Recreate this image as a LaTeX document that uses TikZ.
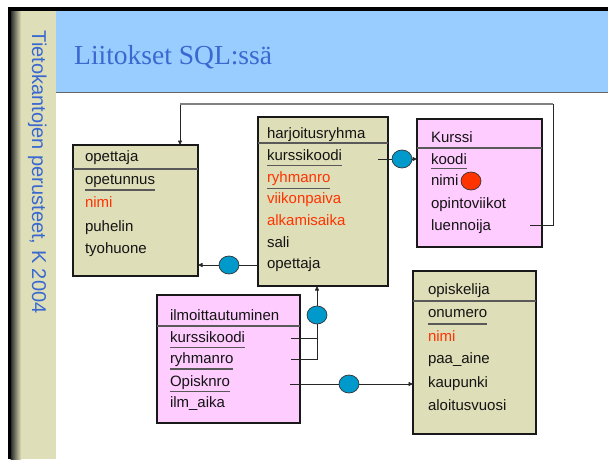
\documentclass[tikz,border=0pt]{standalone}
\usepackage{fontspec}
\setmainfont{Liberation Sans}
\newfontfamily\titlefont{Liberation Serif}
\usetikzlibrary{arrows.meta,shapes.geometric}
\definecolor{olivebg}{RGB}{222,222,184}
\definecolor{pinkbg}{RGB}{255,204,255}
\definecolor{headblue}{RGB}{153,204,255}
\definecolor{titleblue}{RGB}{56,104,208}
\definecolor{keyred}{RGB}{255,51,0}
\definecolor{circblue}{RGB}{0,153,204}
\definecolor{txtblack}{RGB}{20,20,20}
\tikzset{
  tbl/.style={draw=black!90, line width=1.2pt, inner sep=0pt, outer sep=0pt, anchor=north west},
  olivetbl/.style={tbl, fill=olivebg},
  pinktbl/.style={tbl, fill=pinkbg},
  sepl/.style={draw=black!65, line width=1.4pt},
  txt/.style={anchor=base west, inner sep=0pt, outer sep=0pt, text=txtblack, font=\fontsize{15}{18}\selectfont},
  redtxt/.style={txt, text=keyred},
  uline/.style={draw=black!65, line width=1.3pt},
  conn/.style={draw=black!85, line width=0.8pt},
  arr/.style={-{Triangle[length=4.5pt,width=4pt]}},
  bcirc/.style={ellipse, draw=black!80, line width=0.7pt, fill=circblue, minimum width=20pt, minimum height=18pt, inner sep=0pt},
  rcirc/.style={ellipse, draw=black!80, line width=0.7pt, fill=keyred, minimum width=20pt, minimum height=18pt, inner sep=0pt},
}
\newcommand{\ul}[2][6pt]{\draw[uline] ([yshift=-#1]#2.base west) -- ([yshift=-#1]#2.base east);}
\begin{document}
\begin{tikzpicture}[x=1pt,y=-1pt]
\useasboundingbox (0,0) rectangle (608,459);
% frame
\fill[white] (0,0) rectangle (608,459);
\fill[olivebg] (8,8) rectangle (56,459);
\shade[left color=black!85, right color=olivebg] (10.5,8) rectangle (21,459);
\fill[black] (8,8) rectangle (11,459);
\fill[headblue] (56,10) rectangle (608,92);
\fill[black] (8,7) rectangle (608,10.5);
\draw[black!60, line width=1.5pt] (56,92.5) -- (608,92.5);
\node[rotate=-90, anchor=base west, inner sep=0pt, text=titleblue, font=\fontsize{20}{24}\selectfont] (side) at (32,30.5) {Tietokantojen perusteet, K 2004};
\node[anchor=base west, inner sep=0pt, text=titleblue, font=\titlefont\fontsize{27.5}{30}\selectfont] (title) at (74,64) {Liitokset SQL:ssä};

% tables
\node[olivetbl, minimum width=125pt, minimum height=131pt] (opettaja) at (73,145) {};
\node[olivetbl, minimum width=130pt, minimum height=169pt] (harj) at (258,117) {};
\node[pinktbl, minimum width=125pt, minimum height=128pt] (kurssi) at (417,119) {};
\node[pinktbl, minimum width=143pt, minimum height=128pt] (ilmo) at (157,295) {};
\node[olivetbl, minimum width=123pt, minimum height=163pt] (opisk) at (413,271) {};

\draw[sepl] (opettaja.west |- 0,169) -- (opettaja.east |- 0,169);
\draw[sepl] (harj.west |- 0,143) -- (harj.east |- 0,143);
\draw[sepl] (kurssi.west |- 0,148) -- (kurssi.east |- 0,148);
\draw[sepl] (ilmo.west |- 0,326) -- (ilmo.east |- 0,326);
\draw[sepl] (opisk.west |- 0,301) -- (opisk.east |- 0,301);

% opettaja
\node[txt] (op0) at (85,161) {opettaja};
\node[txt] (op1) at (85,184) {opetunnus};
\node[redtxt] (op2) at (85,207) {nimi};
\node[txt] (op3) at (85,231) {puhelin};
\node[txt] (op4) at (85,253) {tyohuone};
\ul{op1}
% harjoitusryhma
\node[txt] (h0) at (267,138) {harjoitusryhma};
\node[txt] (h1) at (267,160) {kurssikoodi};
\node[redtxt] (h2) at (267,182) {ryhmanro};
\node[redtxt] (h3) at (267,203) {viikonpaiva};
\node[redtxt] (h4) at (267,225) {alkamisaika};
\node[txt] (h5) at (267,247) {sali};
\node[txt] (h6) at (267,268) {opettaja};
\ul[5.5pt]{h1}
\ul[6.5pt]{h2}
% Kurssi
\node[txt] (k0) at (431,142) {Kurssi};
\node[txt] (k1) at (431,164) {koodi};
\node[txt] (k2) at (431,185) {nimi};
\node[txt] (k3) at (431,208) {opintoviikot};
\node[txt] (k4) at (431,230) {luennoija};
\ul[4.5pt]{k1}
\node[rcirc] (rc) at (471,181) {};
% ilmoittautuminen
\node[txt] (i0) at (170,320) {ilmoittautuminen};
\node[txt] (i1) at (170,342) {kurssikoodi};
\node[txt] (i2) at (170,363) {ryhmanro};
\node[txt] (i3) at (170,386) {Opisknro};
\node[txt] (i4) at (170,407) {ilm\_aika};
\ul[5.5pt]{i1}
\ul[6pt]{i2}
\ul[5.5pt]{i3}
% opiskelija
\node[txt] (o0) at (428,294) {opiskelija};
\node[txt] (o1) at (428,317) {onumero};
\node[redtxt] (o2) at (428,341) {nimi};
\node[txt] (o3) at (428,363) {paa\_aine};
\node[txt] (o4) at (428,387) {kaupunki};
\node[txt] (o5) at (428,410) {aloitusvuosi};
\ul[7pt]{o1}

% connector circles
\node[bcirc] (c1) at (402,159) {};
\node[bcirc] (c2) at (229,265) {};
\node[bcirc] (c3) at (317,315) {};
\node[bcirc] (c4) at (349,384) {};

% connectors
\coordinate (hk) at (378,159);
\draw[conn] (hk) -- (c1);
\draw[conn,arr] (c1) -- (kurssi.west |- c1);

\coordinate (ho) at (harj.west |- 0,265);
\draw[conn] (ho) -- (c2);
\draw[conn,arr] (c2) -- (opettaja.east |- c2);

\coordinate (ik) at (291,338);
\coordinate (ir) at (291,359);
\draw[conn] (ik) -- (ik -| c3);
\draw[conn] (ir) -| (c3);
\draw[conn,arr] (c3) -- (harj.south -| c3);

\coordinate (io) at (290,384);
\draw[conn] (io) -- (c4);
\draw[conn,arr] (c4) -- (opisk.west |- c4);

\coordinate (kl) at (530,225);
\coordinate (tr) at (553,104);
\coordinate (tl) at (180,104);
\draw[conn,arr] (kl) -| (tr) -- (tl) -- (tl |- opettaja.north);
\draw[black!50, line width=1.6pt] (tr) -- (tl);
\end{tikzpicture}
\end{document}
